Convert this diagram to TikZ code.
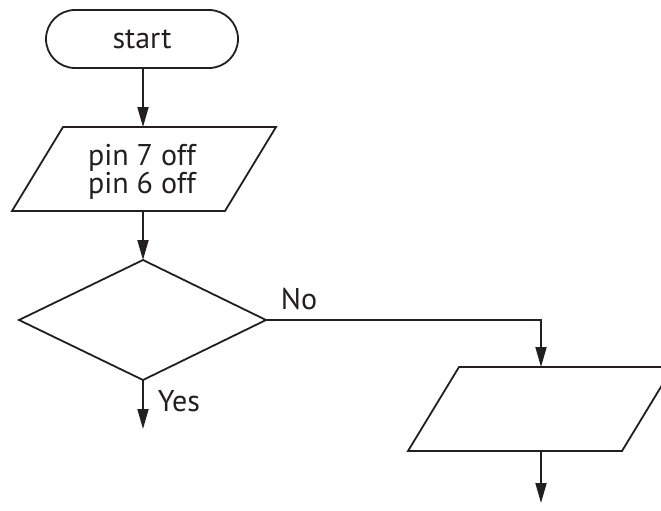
\documentclass[tikz,border=0pt]{standalone}
\usepackage{fontspec}
\setmainfont{PT Sans}
\usetikzlibrary{arrows.meta}
\definecolor{ink}{HTML}{231F20}
\begin{document}
\begin{tikzpicture}[x=1pt,y=-1pt,line width=1.8pt,
  flow/.style={draw=ink,-{Triangle[length=20pt,width=11pt]}},
  outline/.style={draw=ink,line join=miter},
  lbl/.style={font=\fontsize{30}{27}\selectfont,text=ink,inner sep=0pt,align=center}]
\useasboundingbox (0,0) rectangle (661,511);
\clip (0,0) rectangle (661,511);
% terminal
\draw[outline,rounded corners=29pt] (46,10) rectangle (238,68);
\node[lbl] (start) at (142,39) {start};
\coordinate (startB) at (143,68);
% parallelogram 1
\draw[outline] (63,127) -- (276,127) -- (225,211) -- (12,211) -- cycle;
\node[lbl] (p1) at (142,172) {pin 7 off\\pin 6 off};
\coordinate (p1T) at (143,127);
\coordinate (p1B) at (143,211);
% decision
\coordinate (dT) at (143,260);
\coordinate (dR) at (266,320);
\coordinate (dB) at (143,380);
\coordinate (dL) at (19,320);
\draw[outline] (dT) -- (dR) -- (dB) -- (dL) -- cycle;
\coordinate (yesEnd) at (143,429);
% parallelogram 2
\draw[outline] (459,367) -- (673,367) -- (622,451) -- (408,451) -- cycle;
\coordinate (p2T) at (541,367);
\coordinate (p2B) at (541,451);
\coordinate (p2End) at (541,503);
% connectors
\draw[flow] (startB) -- (p1T);
\draw[flow] (p1B) -- (dT);
\draw[flow] (dB) -- (yesEnd);
\draw[flow] (dR) -| (p2T);
\draw[flow] (p2B) -- (p2End);
% labels
\node[lbl,anchor=base west] (no) at (280,309) {No};
\node[lbl,anchor=base west] (yes) at (157,411) {Yes};
\end{tikzpicture}
\end{document}
